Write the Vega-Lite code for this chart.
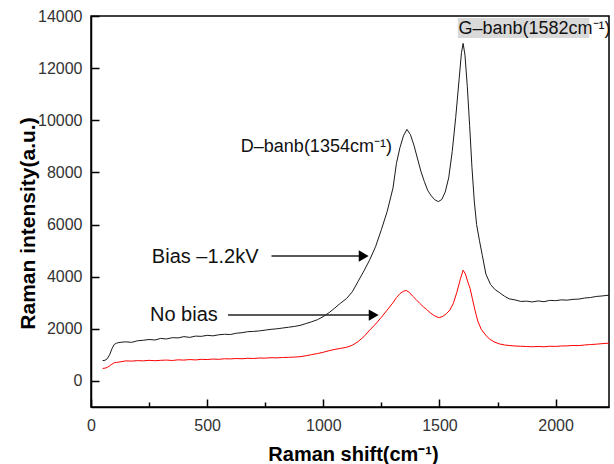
{
  "$schema": "https://vega.github.io/schema/vega-lite/v6.json",
  "width": 518,
  "height": 391,
  "autosize": {"type": "none"},
  "padding": {"left": 91, "top": 16, "right": 5, "bottom": 57},
  "background": "white",
  "config": {
    "view": {"stroke": "black", "strokeWidth": 1.5},
    "font": "Liberation Sans"
  },
  "datasets": {
    "spectra": [
      {"shift": 50, "intensity": 780, "series": "Bias –1.2kV"},
      {"shift": 60, "intensity": 790, "series": "Bias –1.2kV"},
      {"shift": 70, "intensity": 850, "series": "Bias –1.2kV"},
      {"shift": 80, "intensity": 1000, "series": "Bias –1.2kV"},
      {"shift": 90, "intensity": 1230, "series": "Bias –1.2kV"},
      {"shift": 100, "intensity": 1400, "series": "Bias –1.2kV"},
      {"shift": 110, "intensity": 1450, "series": "Bias –1.2kV"},
      {"shift": 125, "intensity": 1480, "series": "Bias –1.2kV"},
      {"shift": 150, "intensity": 1500, "series": "Bias –1.2kV"},
      {"shift": 175, "intensity": 1480, "series": "Bias –1.2kV"},
      {"shift": 200, "intensity": 1540, "series": "Bias –1.2kV"},
      {"shift": 225, "intensity": 1560, "series": "Bias –1.2kV"},
      {"shift": 250, "intensity": 1590, "series": "Bias –1.2kV"},
      {"shift": 275, "intensity": 1570, "series": "Bias –1.2kV"},
      {"shift": 300, "intensity": 1630, "series": "Bias –1.2kV"},
      {"shift": 325, "intensity": 1610, "series": "Bias –1.2kV"},
      {"shift": 350, "intensity": 1660, "series": "Bias –1.2kV"},
      {"shift": 375, "intensity": 1650, "series": "Bias –1.2kV"},
      {"shift": 400, "intensity": 1700, "series": "Bias –1.2kV"},
      {"shift": 425, "intensity": 1670, "series": "Bias –1.2kV"},
      {"shift": 450, "intensity": 1720, "series": "Bias –1.2kV"},
      {"shift": 475, "intensity": 1710, "series": "Bias –1.2kV"},
      {"shift": 500, "intensity": 1750, "series": "Bias –1.2kV"},
      {"shift": 525, "intensity": 1730, "series": "Bias –1.2kV"},
      {"shift": 550, "intensity": 1770, "series": "Bias –1.2kV"},
      {"shift": 575, "intensity": 1790, "series": "Bias –1.2kV"},
      {"shift": 600, "intensity": 1780, "series": "Bias –1.2kV"},
      {"shift": 625, "intensity": 1830, "series": "Bias –1.2kV"},
      {"shift": 650, "intensity": 1850, "series": "Bias –1.2kV"},
      {"shift": 675, "intensity": 1890, "series": "Bias –1.2kV"},
      {"shift": 700, "intensity": 1900, "series": "Bias –1.2kV"},
      {"shift": 725, "intensity": 1920, "series": "Bias –1.2kV"},
      {"shift": 750, "intensity": 1950, "series": "Bias –1.2kV"},
      {"shift": 775, "intensity": 1980, "series": "Bias –1.2kV"},
      {"shift": 800, "intensity": 2000, "series": "Bias –1.2kV"},
      {"shift": 825, "intensity": 2030, "series": "Bias –1.2kV"},
      {"shift": 850, "intensity": 2060, "series": "Bias –1.2kV"},
      {"shift": 875, "intensity": 2090, "series": "Bias –1.2kV"},
      {"shift": 900, "intensity": 2130, "series": "Bias –1.2kV"},
      {"shift": 925, "intensity": 2200, "series": "Bias –1.2kV"},
      {"shift": 950, "intensity": 2270, "series": "Bias –1.2kV"},
      {"shift": 975, "intensity": 2350, "series": "Bias –1.2kV"},
      {"shift": 1000, "intensity": 2470, "series": "Bias –1.2kV"},
      {"shift": 1025, "intensity": 2620, "series": "Bias –1.2kV"},
      {"shift": 1050, "intensity": 2800, "series": "Bias –1.2kV"},
      {"shift": 1075, "intensity": 2990, "series": "Bias –1.2kV"},
      {"shift": 1100, "intensity": 3160, "series": "Bias –1.2kV"},
      {"shift": 1125, "intensity": 3420, "series": "Bias –1.2kV"},
      {"shift": 1150, "intensity": 3820, "series": "Bias –1.2kV"},
      {"shift": 1175, "intensity": 4220, "series": "Bias –1.2kV"},
      {"shift": 1200, "intensity": 4650, "series": "Bias –1.2kV"},
      {"shift": 1225, "intensity": 5150, "series": "Bias –1.2kV"},
      {"shift": 1250, "intensity": 5800, "series": "Bias –1.2kV"},
      {"shift": 1275, "intensity": 6500, "series": "Bias –1.2kV"},
      {"shift": 1300, "intensity": 7400, "series": "Bias –1.2kV"},
      {"shift": 1315, "intensity": 8350, "series": "Bias –1.2kV"},
      {"shift": 1330, "intensity": 8950, "series": "Bias –1.2kV"},
      {"shift": 1345, "intensity": 9400, "series": "Bias –1.2kV"},
      {"shift": 1360, "intensity": 9650, "series": "Bias –1.2kV"},
      {"shift": 1375, "intensity": 9450, "series": "Bias –1.2kV"},
      {"shift": 1390, "intensity": 9050, "series": "Bias –1.2kV"},
      {"shift": 1405, "intensity": 8550, "series": "Bias –1.2kV"},
      {"shift": 1420, "intensity": 8050, "series": "Bias –1.2kV"},
      {"shift": 1435, "intensity": 7650, "series": "Bias –1.2kV"},
      {"shift": 1450, "intensity": 7300, "series": "Bias –1.2kV"},
      {"shift": 1465, "intensity": 7100, "series": "Bias –1.2kV"},
      {"shift": 1480, "intensity": 6950, "series": "Bias –1.2kV"},
      {"shift": 1495, "intensity": 6880, "series": "Bias –1.2kV"},
      {"shift": 1510, "intensity": 6960, "series": "Bias –1.2kV"},
      {"shift": 1525, "intensity": 7250, "series": "Bias –1.2kV"},
      {"shift": 1540, "intensity": 7800, "series": "Bias –1.2kV"},
      {"shift": 1555, "intensity": 8800, "series": "Bias –1.2kV"},
      {"shift": 1570, "intensity": 10100, "series": "Bias –1.2kV"},
      {"shift": 1585, "intensity": 11600, "series": "Bias –1.2kV"},
      {"shift": 1595, "intensity": 12600, "series": "Bias –1.2kV"},
      {"shift": 1602, "intensity": 12950, "series": "Bias –1.2kV"},
      {"shift": 1610, "intensity": 12500, "series": "Bias –1.2kV"},
      {"shift": 1620, "intensity": 11300, "series": "Bias –1.2kV"},
      {"shift": 1630, "intensity": 9800, "series": "Bias –1.2kV"},
      {"shift": 1640, "intensity": 8200, "series": "Bias –1.2kV"},
      {"shift": 1650, "intensity": 6900, "series": "Bias –1.2kV"},
      {"shift": 1660, "intensity": 6000, "series": "Bias –1.2kV"},
      {"shift": 1672, "intensity": 5400, "series": "Bias –1.2kV"},
      {"shift": 1685, "intensity": 4800, "series": "Bias –1.2kV"},
      {"shift": 1700, "intensity": 4100, "series": "Bias –1.2kV"},
      {"shift": 1720, "intensity": 3700, "series": "Bias –1.2kV"},
      {"shift": 1740, "intensity": 3500, "series": "Bias –1.2kV"},
      {"shift": 1760, "intensity": 3380, "series": "Bias –1.2kV"},
      {"shift": 1780, "intensity": 3250, "series": "Bias –1.2kV"},
      {"shift": 1800, "intensity": 3150, "series": "Bias –1.2kV"},
      {"shift": 1825, "intensity": 3110, "series": "Bias –1.2kV"},
      {"shift": 1850, "intensity": 3050, "series": "Bias –1.2kV"},
      {"shift": 1875, "intensity": 3060, "series": "Bias –1.2kV"},
      {"shift": 1900, "intensity": 3030, "series": "Bias –1.2kV"},
      {"shift": 1925, "intensity": 3070, "series": "Bias –1.2kV"},
      {"shift": 1950, "intensity": 3040, "series": "Bias –1.2kV"},
      {"shift": 1975, "intensity": 3090, "series": "Bias –1.2kV"},
      {"shift": 2000, "intensity": 3080, "series": "Bias –1.2kV"},
      {"shift": 2025, "intensity": 3110, "series": "Bias –1.2kV"},
      {"shift": 2050, "intensity": 3100, "series": "Bias –1.2kV"},
      {"shift": 2075, "intensity": 3130, "series": "Bias –1.2kV"},
      {"shift": 2100, "intensity": 3140, "series": "Bias –1.2kV"},
      {"shift": 2125, "intensity": 3180, "series": "Bias –1.2kV"},
      {"shift": 2150, "intensity": 3200, "series": "Bias –1.2kV"},
      {"shift": 2175, "intensity": 3240, "series": "Bias –1.2kV"},
      {"shift": 2200, "intensity": 3260, "series": "Bias –1.2kV"},
      {"shift": 2230, "intensity": 3290, "series": "Bias –1.2kV"},
      {"shift": 50, "intensity": 480, "series": "No bias"},
      {"shift": 60, "intensity": 490, "series": "No bias"},
      {"shift": 70, "intensity": 520, "series": "No bias"},
      {"shift": 80, "intensity": 580, "series": "No bias"},
      {"shift": 90, "intensity": 640, "series": "No bias"},
      {"shift": 100, "intensity": 700, "series": "No bias"},
      {"shift": 110, "intensity": 710, "series": "No bias"},
      {"shift": 125, "intensity": 730, "series": "No bias"},
      {"shift": 150, "intensity": 770, "series": "No bias"},
      {"shift": 175, "intensity": 760, "series": "No bias"},
      {"shift": 200, "intensity": 780, "series": "No bias"},
      {"shift": 225, "intensity": 770, "series": "No bias"},
      {"shift": 250, "intensity": 790, "series": "No bias"},
      {"shift": 275, "intensity": 775, "series": "No bias"},
      {"shift": 300, "intensity": 790, "series": "No bias"},
      {"shift": 325, "intensity": 800, "series": "No bias"},
      {"shift": 350, "intensity": 785, "series": "No bias"},
      {"shift": 375, "intensity": 810, "series": "No bias"},
      {"shift": 400, "intensity": 800, "series": "No bias"},
      {"shift": 425, "intensity": 820, "series": "No bias"},
      {"shift": 450, "intensity": 805, "series": "No bias"},
      {"shift": 475, "intensity": 830, "series": "No bias"},
      {"shift": 500, "intensity": 820, "series": "No bias"},
      {"shift": 525, "intensity": 840, "series": "No bias"},
      {"shift": 550, "intensity": 830, "series": "No bias"},
      {"shift": 575, "intensity": 850, "series": "No bias"},
      {"shift": 600, "intensity": 845, "series": "No bias"},
      {"shift": 625, "intensity": 860, "series": "No bias"},
      {"shift": 650, "intensity": 850, "series": "No bias"},
      {"shift": 675, "intensity": 870, "series": "No bias"},
      {"shift": 700, "intensity": 860, "series": "No bias"},
      {"shift": 725, "intensity": 880, "series": "No bias"},
      {"shift": 750, "intensity": 875, "series": "No bias"},
      {"shift": 775, "intensity": 890, "series": "No bias"},
      {"shift": 800, "intensity": 885, "series": "No bias"},
      {"shift": 825, "intensity": 900, "series": "No bias"},
      {"shift": 850, "intensity": 905, "series": "No bias"},
      {"shift": 875, "intensity": 915, "series": "No bias"},
      {"shift": 900, "intensity": 930, "series": "No bias"},
      {"shift": 925, "intensity": 965, "series": "No bias"},
      {"shift": 950, "intensity": 1010, "series": "No bias"},
      {"shift": 975, "intensity": 1050, "series": "No bias"},
      {"shift": 1000, "intensity": 1100, "series": "No bias"},
      {"shift": 1025, "intensity": 1160, "series": "No bias"},
      {"shift": 1050, "intensity": 1210, "series": "No bias"},
      {"shift": 1075, "intensity": 1250, "series": "No bias"},
      {"shift": 1100, "intensity": 1290, "series": "No bias"},
      {"shift": 1125, "intensity": 1370, "series": "No bias"},
      {"shift": 1150, "intensity": 1510, "series": "No bias"},
      {"shift": 1175, "intensity": 1700, "series": "No bias"},
      {"shift": 1200, "intensity": 1950, "series": "No bias"},
      {"shift": 1225, "intensity": 2180, "series": "No bias"},
      {"shift": 1250, "intensity": 2440, "series": "No bias"},
      {"shift": 1275, "intensity": 2720, "series": "No bias"},
      {"shift": 1300, "intensity": 3000, "series": "No bias"},
      {"shift": 1315, "intensity": 3200, "series": "No bias"},
      {"shift": 1330, "intensity": 3350, "series": "No bias"},
      {"shift": 1345, "intensity": 3440, "series": "No bias"},
      {"shift": 1357, "intensity": 3470, "series": "No bias"},
      {"shift": 1370, "intensity": 3400, "series": "No bias"},
      {"shift": 1385, "intensity": 3250, "series": "No bias"},
      {"shift": 1400, "intensity": 3120, "series": "No bias"},
      {"shift": 1415, "intensity": 2980, "series": "No bias"},
      {"shift": 1430, "intensity": 2850, "series": "No bias"},
      {"shift": 1445, "intensity": 2740, "series": "No bias"},
      {"shift": 1460, "intensity": 2620, "series": "No bias"},
      {"shift": 1475, "intensity": 2520, "series": "No bias"},
      {"shift": 1490, "intensity": 2450, "series": "No bias"},
      {"shift": 1500, "intensity": 2430, "series": "No bias"},
      {"shift": 1515, "intensity": 2480, "series": "No bias"},
      {"shift": 1530, "intensity": 2580, "series": "No bias"},
      {"shift": 1545, "intensity": 2720, "series": "No bias"},
      {"shift": 1560, "intensity": 2980, "series": "No bias"},
      {"shift": 1575, "intensity": 3400, "series": "No bias"},
      {"shift": 1590, "intensity": 3900, "series": "No bias"},
      {"shift": 1602, "intensity": 4250, "series": "No bias"},
      {"shift": 1612, "intensity": 4100, "series": "No bias"},
      {"shift": 1622, "intensity": 3800, "series": "No bias"},
      {"shift": 1632, "intensity": 3550, "series": "No bias"},
      {"shift": 1642, "intensity": 3150, "series": "No bias"},
      {"shift": 1652, "intensity": 2750, "series": "No bias"},
      {"shift": 1665, "intensity": 2300, "series": "No bias"},
      {"shift": 1680, "intensity": 1980, "series": "No bias"},
      {"shift": 1700, "intensity": 1750, "series": "No bias"},
      {"shift": 1715, "intensity": 1610, "series": "No bias"},
      {"shift": 1735, "intensity": 1500, "series": "No bias"},
      {"shift": 1758, "intensity": 1420, "series": "No bias"},
      {"shift": 1780, "intensity": 1380, "series": "No bias"},
      {"shift": 1800, "intensity": 1360, "series": "No bias"},
      {"shift": 1825, "intensity": 1340, "series": "No bias"},
      {"shift": 1850, "intensity": 1330, "series": "No bias"},
      {"shift": 1875, "intensity": 1320, "series": "No bias"},
      {"shift": 1900, "intensity": 1310, "series": "No bias"},
      {"shift": 1925, "intensity": 1325, "series": "No bias"},
      {"shift": 1950, "intensity": 1310, "series": "No bias"},
      {"shift": 1975, "intensity": 1330, "series": "No bias"},
      {"shift": 2000, "intensity": 1325, "series": "No bias"},
      {"shift": 2025, "intensity": 1340, "series": "No bias"},
      {"shift": 2050, "intensity": 1345, "series": "No bias"},
      {"shift": 2075, "intensity": 1360, "series": "No bias"},
      {"shift": 2100, "intensity": 1355, "series": "No bias"},
      {"shift": 2125, "intensity": 1380, "series": "No bias"},
      {"shift": 2150, "intensity": 1395, "series": "No bias"},
      {"shift": 2175, "intensity": 1410, "series": "No bias"},
      {"shift": 2200, "intensity": 1430, "series": "No bias"},
      {"shift": 2230, "intensity": 1450, "series": "No bias"}
    ],
    "peakLabels": [
      {"x": 645, "y": 8990, "text": "D–banb(1354cm⁻¹)"},
      {"x": 1582, "y": 13500, "text": "G–banb(1582cm⁻¹)"}
    ],
    "seriesLabels": [
      {"x": 262, "y": 4760, "text": "Bias –1.2kV"},
      {"x": 254, "y": 2540, "text": "No bias"}
    ],
    "arrows": [
      {"x": 777, "x2": 1180, "y": 4790, "tip": 1174},
      {"x": 590, "x2": 1222, "y": 2525, "tip": 1217}
    ],
    "box": [
      {"x": 1579, "x2": 2145, "y": 13155, "y2": 13920}
    ]
  },
  "layer": [
    {
      "data": {"name": "box"},
      "mark": {"type": "rect", "color": "#d9d9d9"},
      "encoding": {
        "x": {"field": "x", "type": "quantitative", "scale": {"domain": [0, 2230], "nice": false, "zero": false}},
        "x2": {"field": "x2"},
        "y": {"field": "y", "type": "quantitative", "scale": {"domain": [-1000, 14000], "nice": false, "zero": false}},
        "y2": {"field": "y2"}
      }
    },
    {
      "data": {"name": "spectra"},
      "mark": {"type": "line", "strokeWidth": 1, "interpolate": "linear"},
      "encoding": {
        "x": {
          "field": "shift", "type": "quantitative",
          "scale": {"domain": [0, 2230], "nice": false, "zero": false},
          "axis": {
            "title": "Raman shift(cm⁻¹)",
            "values": [0, 250, 500, 750, 1000, 1250, 1500, 1750, 2000],
            "labelExpr": "datum.value % 500 == 0 ? format(datum.value, 'd') : ''",
            "labelOverlap": false,
            "labelFlush": false,
            "grid": false,
            "domainColor": "black", "domainWidth": 1.5,
            "tickColor": "black", "tickWidth": 1.5,
            "tickSize": -8,
            "tickDash": {"condition": {"test": "datum.value % 500 == 0", "value": [20, 0]}, "value": [5, 30]},
            "labelFontSize": 16, "labelColor": "#333", "labelFont": "Liberation Sans",
            "labelPadding": 18,
            "titleFontSize": 20, "titleFontWeight": "bold", "titleColor": "black", "titleFont": "Liberation Sans",
            "titleX": 262, "titleY": 53, "titleBaseline": "alphabetic"
          }
        },
        "y": {
          "field": "intensity", "type": "quantitative",
          "scale": {"domain": [-1000, 14000], "nice": false, "zero": false},
          "axis": {
            "title": "Raman intensity(a.u.)",
            "values": [0, 1000, 2000, 3000, 4000, 5000, 6000, 7000, 8000, 9000, 10000, 11000, 12000, 13000, 14000],
            "labelExpr": "datum.value % 2000 == 0 ? format(datum.value, 'd') : ''",
            "labelOverlap": false,
            "labelFlush": false,
            "grid": false,
            "domainColor": "black", "domainWidth": 1.5,
            "tickColor": "black", "tickWidth": 1.5,
            "tickSize": -8,
            "tickDash": {"condition": {"test": "datum.value % 2000 == 0", "value": [20, 0]}, "value": [5, 30]},
            "labelFontSize": 16, "labelColor": "#333", "labelFont": "Liberation Sans",
            "labelPadding": 17,
            "titleFontSize": 21, "titleFontWeight": "bold", "titleColor": "black", "titleFont": "Liberation Sans",
            "titleX": -57, "titleY": 207, "titleBaseline": "alphabetic"
          }
        },
        "color": {
          "field": "series", "type": "nominal",
          "scale": {"domain": ["Bias –1.2kV", "No bias"], "range": ["#1a1a1a", "#ff0000"]},
          "legend": null
        },
        "detail": {"field": "series"}
      }
    },
    {
      "data": {"name": "arrows"},
      "mark": {"type": "rule", "color": "#222", "strokeWidth": 1.5},
      "encoding": {
        "x": {"field": "x", "type": "quantitative"},
        "x2": {"field": "x2"},
        "y": {"field": "y", "type": "quantitative"}
      }
    },
    {
      "data": {"name": "arrows"},
      "mark": {"type": "point", "shape": "triangle-right", "filled": true, "color": "black", "size": 130, "opacity": 1},
      "encoding": {
        "x": {"field": "tip", "type": "quantitative"},
        "y": {"field": "y", "type": "quantitative"}
      }
    },
    {
      "data": {"name": "peakLabels"},
      "mark": {"type": "text", "align": "left", "baseline": "middle", "fontSize": 18, "font": "Liberation Sans", "color": "#111"},
      "encoding": {
        "x": {"field": "x", "type": "quantitative"},
        "y": {"field": "y", "type": "quantitative"},
        "text": {"field": "text"}
      }
    },
    {
      "data": {"name": "seriesLabels"},
      "mark": {"type": "text", "align": "left", "baseline": "middle", "fontSize": 20, "font": "Liberation Sans", "color": "#111"},
      "encoding": {
        "x": {"field": "x", "type": "quantitative"},
        "y": {"field": "y", "type": "quantitative"},
        "text": {"field": "text"}
      }
    }
  ]
}
